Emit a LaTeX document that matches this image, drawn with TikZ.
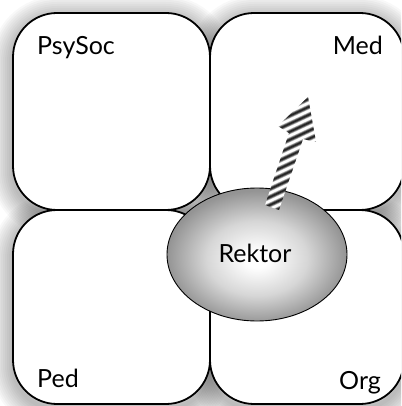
\documentclass[tikz,border=0pt]{standalone}
\usepackage{fontspec}
\setmainfont{Lato}
\usetikzlibrary{shapes.geometric}
\pgfdeclareradialshading{rektorglow}{\pgfpoint{0bp}{-2bp}}{%
  color(0bp)=(white); color(3bp)=(white); color(14bp)=(black!16); color(25bp)=(black!42); color(50bp)=(black!42)}
\begin{document}
\begin{tikzpicture}[x=1pt,y=-1pt,
  quadrant/.style={draw=black, line width=1.8pt, fill=white, rounded corners=44pt},
  quadshadow/.style={draw=black, line width=#1, opacity=0.026, rounded corners=44pt},
  areatext/.style={font=\fontsize{25}{30}\selectfont, inner sep=0pt},
  stripe/.style={draw=black, line cap=butt},
]
\useasboundingbox (0,0) rectangle (401,406);
\clip (0,0) rectangle (401,406);

% soft shadow of the four quadrants
\foreach \ax/\ay/\bx/\by in {13/13/210/210, 210/13/404/210, 13/210/210/404, 210/210/404/404}{
  \foreach \w in {4,8,...,44}
    \draw[quadshadow=\w pt, shift={(0,5)}] (\ax,\ay) rectangle (\bx,\by);
}

% the four quadrants
\foreach \ax/\ay/\bx/\by in {13/13/210/210, 210/13/404/210, 13/210/210/404, 210/210/404/404}
  \draw[quadrant] (\ax,\ay) rectangle (\bx,\by);

\node[areatext, anchor=base west] (psysoc) at (37,55) {PsySoc};
\node[areatext, anchor=base east] (med) at (383,55) {Med};
\node[areatext, anchor=base west] (ped) at (37,387) {Ped};
\node[areatext, anchor=base east] (org) at (381,389) {Org};

% central ellipse
\node[ellipse, draw=black, line width=0.9pt, minimum width=180pt, minimum height=133pt,
      shading=rektorglow] (rektor) at (257,254.5) {};
\node[areatext, anchor=base] (rektortext) at (255,262) {Rektor};

% striped arrow
\begin{scope}
  \clip (265,205) -- (289,133) -- (278,126) -- (308,97) -- (316,142) -- (303,139) -- (279,210) -- cycle;
  \fill[white] (250,90) rectangle (330,220);
  \foreach \k in {-2,...,18}{
    \pgfmathsetmacro\yy{222-8*\k}
    \draw[stripe, line width=4.6pt, opacity=0.3] (250,\yy+16.3) -- (330,\yy-21);
    \draw[stripe, line width=3.2pt, opacity=0.45] (250,\yy+16.3) -- (330,\yy-21);
    \draw[stripe, line width=1.6pt, opacity=0.6] (250,\yy+16.3) -- (330,\yy-21);
  }
\end{scope}
\end{tikzpicture}
\end{document}
